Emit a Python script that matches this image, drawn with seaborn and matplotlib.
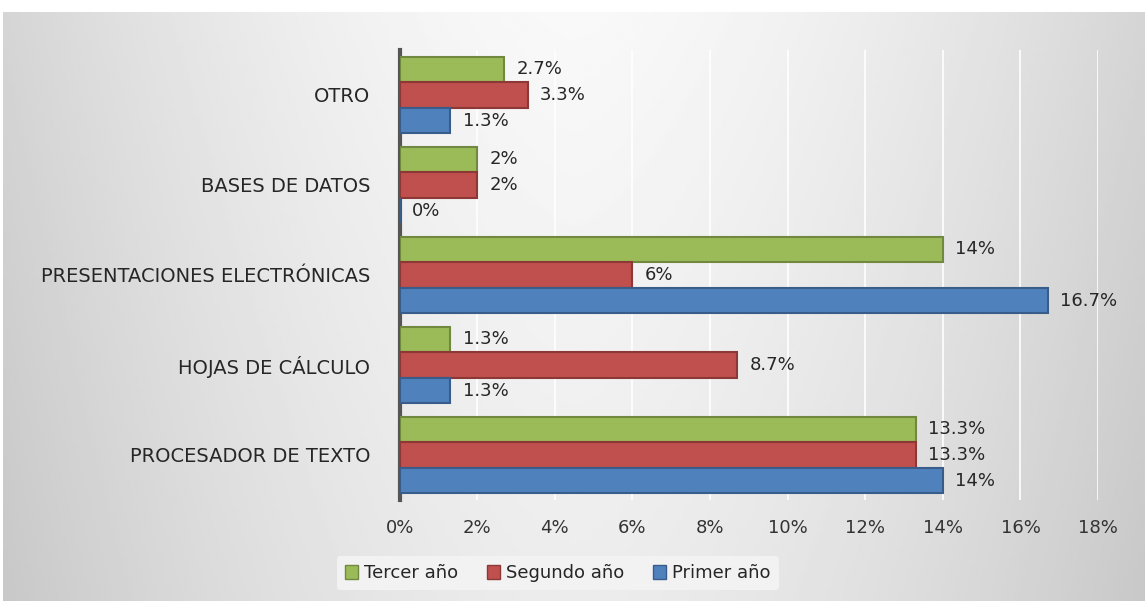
import numpy as np
import pandas as pd
import matplotlib
matplotlib.use("Agg")
import matplotlib.pyplot as plt
import seaborn as sns
from matplotlib.patches import Patch

categories = ["OTRO", "BASES DE DATOS", "PRESENTACIONES ELECTRÓNICAS",
              "HOJAS DE CÁLCULO", "PROCESADOR DE TEXTO"]
series = ["Tercer año", "Segundo año", "Primer año"]
tercer = [2.7, 2, 14, 1.3, 13.3]
segundo = [3.3, 2, 6, 8.7, 13.3]
primer = [1.3, 0, 16.7, 1.3, 14]
xticks = [0, 2, 4, 6, 8, 10, 12, 14, 16, 18]

colors = {"Tercer año": "#9BBB59", "Segundo año": "#C0504D", "Primer año": "#4F81BD"}
edges = {"Tercer año": "#71893F", "Segundo año": "#8C3836", "Primer año": "#385D8A"}

rows = []
for s, vals in zip(series, [tercer, segundo, primer]):
    for c, v in zip(categories, vals):
        rows.append({"cat": c, "serie": s, "val": v})
df = pd.DataFrame(rows)

sns.set_style("white")
plt.rcParams["font.family"] = ["DejaVu Sans"]

fig = plt.figure(figsize=(11.45, 6.01), dpi=100)
fig.patch.set_facecolor("white")

# background gradient panel
bg = fig.add_axes([0.003, 0.0, 0.997, 0.98], zorder=-10)
xx = np.linspace(-1, 1, 300)
yy = np.linspace(0, 1, 200)
X, Y = np.meshgrid(xx, yy)
Z = 0.975 - 0.14 * np.abs(X) ** 1.6 - 0.05 * Y
bg.imshow(Z, cmap="gray", vmin=0, vmax=1, aspect="auto", extent=[0, 1, 0, 1], origin="upper")
bg.set_axis_off()

ax = fig.add_axes([0.349, 1 - 500 / 601, 0.959 - 0.349, 450 / 601])
ax.set_facecolor("none")
sns.barplot(data=df, y="cat", x="val", hue="serie", order=categories,
            hue_order=series, palette=colors, orient="h", width=0.85,
            saturation=1, ax=ax, legend=False, zorder=3)

for cont, s in zip(ax.containers, series):
    for p in cont:
        p.set_edgecolor(edges[s])
        p.set_linewidth(1.5)
    ax.bar_label(cont, labels=[f"{v:g}%" for v in cont.datavalues],
                 padding=9, fontsize=13, color="#262626")

ax.set_xlim(0, 18)
ax.set_ylim(4.5, -0.5)
ax.set_xticks(xticks)
ax.set_xticklabels([f"{t}%" for t in xticks], fontsize=13, color="#333333")
ax.tick_params(axis="x", length=0, pad=14)
ax.tick_params(axis="y", length=0, pad=21, labelsize=14, labelcolor="#262626")
ax.set_xlabel("")
ax.set_ylabel("")
ax.xaxis.grid(True, color="white", linewidth=1.2, zorder=0)
ax.set_axisbelow(True)
for sp in ["top", "right", "bottom"]:
    ax.spines[sp].set_visible(False)
ax.spines["left"].set_color("#555555")
ax.spines["left"].set_linewidth(3)

handles = [Patch(facecolor=colors[s], edgecolor=edges[s], label=s) for s in series]
leg = fig.legend(handles=handles, loc="center", bbox_to_anchor=(0.487, 0.046),
                 ncol=3, frameon=True, fontsize=13, handlelength=0.75,
                 handleheight=0.75, handletextpad=0.3, columnspacing=1.6,
                 borderpad=0.45)
leg.get_frame().set_facecolor("#f2f2f2")
leg.get_frame().set_edgecolor("none")
leg.get_frame().set_alpha(1)

fig.savefig("out.png", dpi=100)
